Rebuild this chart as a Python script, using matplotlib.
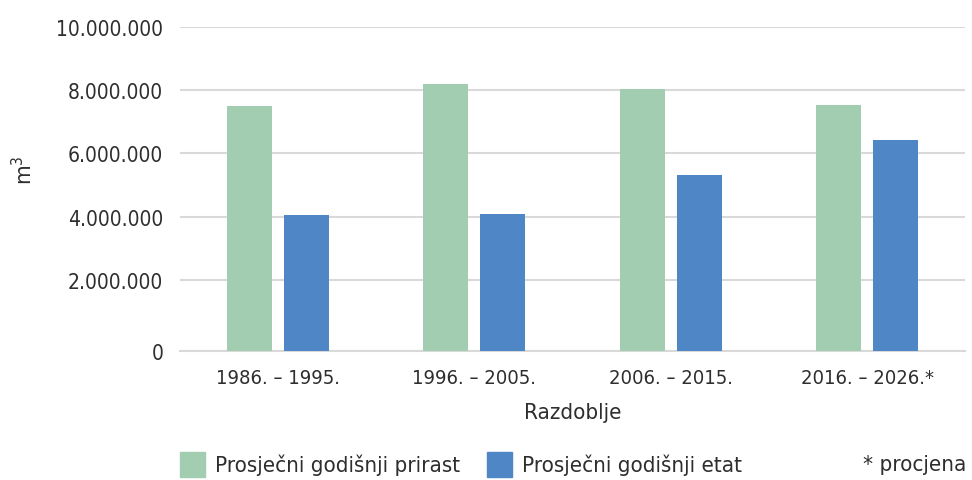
import matplotlib
matplotlib.use("Agg")
import matplotlib.pyplot as plt
import numpy as np
from matplotlib.patches import Rectangle

categories = ["1986. – 1995.", "1996. – 2005.", "2006. – 2015.", "2016. – 2026.*"]
prirast = [7480000, 8190000, 8030000, 7540000]
etat = [4040000, 4080000, 5310000, 6410000]
yticks = [0, 2000000, 4000000, 6000000, 8000000, 10000000]
ytick_labels = ["0", "2.000.000", "4.000.000", "6.000.000", "8.000.000", "10.000.000"]

plt.rcParams['font.family'] = ['DejaVu Sans']
plt.rcParams['font.stretch'] = 'condensed'
GREEN = "#a3cdb0"
BLUE = "#4f86c6"
TXT = "#2e2e2e"

# baseline of the original sits slightly below the zero value
YMIN = -250000

fig = plt.figure(figsize=(9.72, 4.81), dpi=100)
ax = fig.add_axes([0.185, 1 - 352 / 481, 0.808, (352 - 27.7) / 481])

x = np.arange(len(categories))
w = 0.23
off = 0.145
ax.bar(x - off, np.array(prirast) - YMIN, w, bottom=YMIN, color=GREEN, zorder=3)
ax.bar(x + off, np.array(etat) - YMIN, w, bottom=YMIN, color=BLUE, zorder=3)

ax.set_xlim(-0.5, len(categories) - 0.5)
ax.set_ylim(YMIN, 10000000)
tick_pos = [YMIN] + yticks[1:]
ax.set_yticks(tick_pos)
ax.set_yticklabels(ytick_labels, fontsize=15, color=TXT)
ax.set_xticks(x)
ax.set_xticklabels(categories, fontsize=14.5, color=TXT)
ax.tick_params(axis='both', length=0)
ax.tick_params(axis='y', pad=12)
ax.tick_params(axis='x', pad=12)
ax.grid(axis='y', color="#d9d9d9", linewidth=1.5, zorder=0)
for s in ["top", "right", "left"]:
    ax.spines[s].set_visible(False)
ax.spines["bottom"].set_color("#d9d9d9")
ax.spines["bottom"].set_linewidth(1.5)

ax.set_xlabel("Razdoblje", fontsize=16, color=TXT, labelpad=11)
fig.text(0.024, 0.645, "m$^3$", rotation=90, fontsize=16, color=TXT, ha='center', va='center')

fig.patches.append(Rectangle((180/972, 1-478/481), 25/972, 25/481, transform=fig.transFigure, color=GREEN))
fig.text(215/972, 1-465/481, "Prosječni godišnji prirast", fontsize=16, color=TXT, va='center')
fig.patches.append(Rectangle((487/972, 1-478/481), 25/972, 25/481, transform=fig.transFigure, color=BLUE))
fig.text(522/972, 1-465/481, "Prosječni godišnji etat", fontsize=16, color=TXT, va='center')
fig.text(966/972, 1-465/481, "* procjena", fontsize=16, color=TXT, va='center', ha='right')

fig.savefig("out.png", dpi=100)
